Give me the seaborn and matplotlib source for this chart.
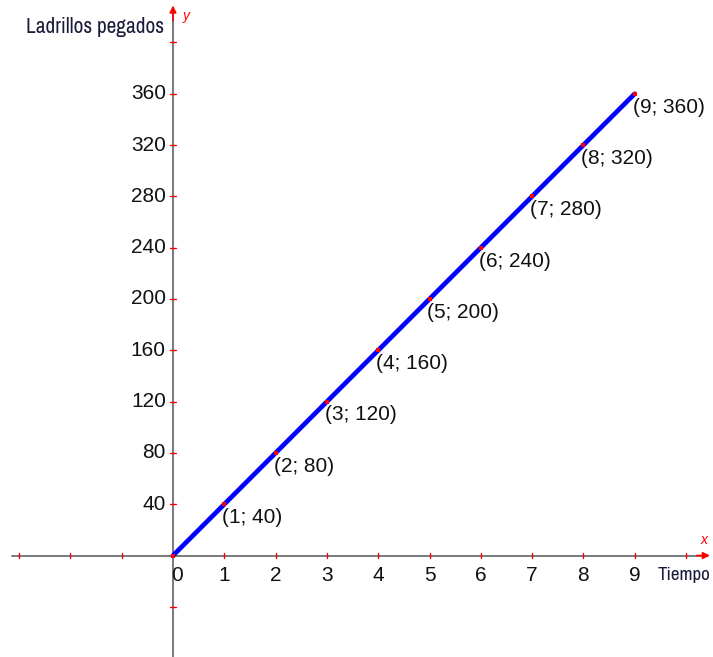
import matplotlib
matplotlib.use("Agg")
import matplotlib.pyplot as plt
import seaborn as sns
import pandas as pd
from matplotlib import font_manager

sns.set_theme(style="white")
plt.rcParams['font.family'] = ['Liberation Sans', 'DejaVu Sans']

# Data
tiempo = [0, 1, 2, 3, 4, 5, 6, 7, 8, 9]
ladrillos = [0, 40, 80, 120, 160, 200, 240, 280, 320, 360]
x_ticks = [-3, -2, -1, 1, 2, 3, 4, 5, 6, 7, 8, 9, 10]
x_tick_labels = ["", "", "", "1", "2", "3", "4", "5", "6", "7", "8", "9", ""]
y_ticks = [-40, 40, 80, 120, 160, 200, 240, 280, 320, 360, 400]
y_tick_labels = ["", "40", "80", "120", "160", "200", "240", "280", "320", "360", ""]
x_label = "Tiempo"
y_label = "Ladrillos pegados"

# pick a condensed / narrow font if one is installed
cond_family = None
cond_stretch = "normal"
for f in font_manager.fontManager.ttflist:
    n = f.name.lower()
    if "narrow" in n or "condensed" in n:
        cond_family = f.name
        cond_stretch = f.stretch
        break
if cond_family is None:
    for f in font_manager.fontManager.ttflist:
        if isinstance(f.stretch, str) and "condensed" in f.stretch:
            cond_family = f.name
            cond_stretch = f.stretch
            break
if cond_family is None:
    cond_family = "DejaVu Sans"

df = pd.DataFrame({"Tiempo": tiempo, "Ladrillos": ladrillos})

fig = plt.figure(figsize=(7.13, 6.57), dpi=100)
ax = fig.add_axes([0, 0, 1, 1])

axis_color = "#6e6e6e"
red = "#ff0000"
txt = "#111111"
# axes lines
ax.plot([-3.13, 10.3], [0, 0], color=axis_color, lw=1.3, zorder=1)
ax.plot([0, 0], [-80, 426], color=axis_color, lw=1.3, zorder=1)
ax.annotate("", xy=(10.52, 0), xytext=(10.15, 0),
            arrowprops=dict(arrowstyle="-|>", color=red, lw=1.2, mutation_scale=10), zorder=3)
ax.annotate("", xy=(0, 431), xytext=(0, 415),
            arrowprops=dict(arrowstyle="-|>", color=red, lw=1.2, mutation_scale=10), zorder=3)
ax.text(10.35, 12, "x", color=red, fontsize=10, style="italic", ha="center", va="center")
ax.text(0.2, 421, "y", color=red, fontsize=10, style="italic", ha="left", va="center")

# ticks
for xt, lab in zip(x_ticks, x_tick_labels):
    ax.plot([xt, xt], [-2.2, 2.2], color=red, lw=1, zorder=2)
    if lab:
        ax.text(xt, -8, lab, fontsize=15, color=txt, ha="center", va="top")
ax.text(0.08, -8, "0", fontsize=15, color=txt, ha="center", va="top")
for yt, lab in zip(y_ticks, y_tick_labels):
    ax.plot([-0.05, 0.05], [yt, yt], color=red, lw=1, zorder=2)
    if lab:
        ax.text(-0.14, yt, lab, fontsize=15, color=txt, ha="right", va="center")

# line
sns.lineplot(data=df, x="Tiempo", y="Ladrillos", color="#0000ff", lw=3.4, ax=ax,
             zorder=4, legend=False)
sns.scatterplot(data=df, x="Tiempo", y="Ladrillos", color=red, s=10, linewidth=0,
                marker="s", ax=ax, zorder=5, legend=False)
ax.axis("off")
ax.set_xlim(-3.372, 10.526)
ax.set_ylim(-79.1, 433.1)

for xv, yv in zip(tiempo[1:], ladrillos[1:]):
    ax.text(xv - 0.04, yv - 3, f"({xv}; {yv})", fontsize=15, color=txt,
            ha="left", va="top", zorder=6)

t1 = ax.text(-0.18, 412, y_label, fontsize=16, color="#1a1a3a", ha="right", va="center",
             family=[cond_family, "DejaVu Sans"], fontstretch=cond_stretch)
t2 = ax.text(9.45, -9, x_label, fontsize=14, color="#1a1a3a", ha="left", va="top",
             family=[cond_family, "DejaVu Sans"], fontstretch=cond_stretch)

# fit label widths to the reference widths (pixels)
fig.canvas.draw()
r = fig.canvas.get_renderer()
for t, target in ((t1, 138), (t2, 53)):
    w = t.get_window_extent(r).width
    t.set_fontsize(t.get_fontsize() * target / w)

fig.savefig("out.png", dpi=100)
